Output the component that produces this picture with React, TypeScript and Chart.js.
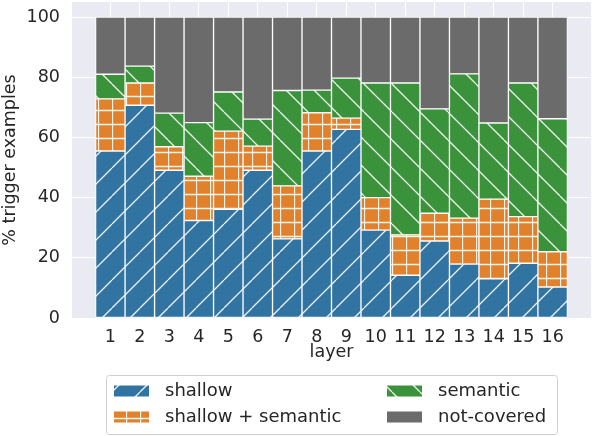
import React, { useEffect, useRef } from "react";
import { Chart, registerables } from "chart.js";

Chart.register(...registerables);

const layers = [1, 2, 3, 4, 5, 6, 7, 8, 9, 10, 11, 12, 13, 14, 15, 16];
const yTickValues = [0, 20, 40, 60, 80, 100];

const shallow = [55.5, 70.7, 49.1, 32.4, 36.1, 49.1, 26.3, 55.5, 62.7, 29.2, 14.2, 25.6, 17.9, 13.0, 18.2, 10.3];
const shallowSemantic = [17.3, 7.4, 7.8, 14.7, 26.0, 8.0, 17.6, 12.7, 3.7, 10.8, 13.4, 9.2, 15.3, 26.5, 15.5, 11.7];
const semantic = [8.2, 5.6, 11.2, 17.8, 13.0, 9.0, 31.7, 7.5, 13.3, 38.1, 50.5, 34.7, 47.9, 25.3, 44.4, 44.2];
const notCovered = [19.0, 16.3, 31.9, 35.1, 24.9, 33.9, 24.4, 24.3, 20.3, 21.9, 21.9, 30.5, 18.9, 35.2, 21.9, 33.8];

const seriesLabels = ["shallow", "shallow + semantic", "semantic", "not-covered"];
const seriesColors = ["#3274A1", "#E1812C", "#3A923A", "#6B6B6B"];
const seriesHatches = ["fwd", "grid", "back", "none"];

const TEXT = "#262626";
const FONT = "'DejaVu Sans', sans-serif";

function makePattern(color: string, kind: string): CanvasPattern | string {
  if (kind === "none") return color;
  const size = kind === "grid" ? 14 : 28;
  const c = document.createElement("canvas");
  c.width = size;
  c.height = size;
  const ctx = c.getContext("2d")!;
  ctx.fillStyle = color;
  ctx.fillRect(0, 0, size, size);
  ctx.strokeStyle = "rgba(255,255,255,0.9)";
  ctx.lineWidth = 1.3;
  if (kind === "fwd") {
    for (const o of [-size, 0, size]) {
      ctx.beginPath();
      ctx.moveTo(o, size);
      ctx.lineTo(o + size, 0);
      ctx.stroke();
    }
  } else if (kind === "back") {
    for (const o of [-size, 0, size]) {
      ctx.beginPath();
      ctx.moveTo(o, 0);
      ctx.lineTo(o + size, size);
      ctx.stroke();
    }
  } else if (kind === "grid") {
    ctx.beginPath();
    ctx.moveTo(0, 12.5);
    ctx.lineTo(size, 12.5);
    ctx.moveTo(0.5, 0);
    ctx.lineTo(0.5, size);
    ctx.stroke();
  }
  return ctx.createPattern(c, "repeat")!;
}

const bgPlugin = {
  id: "plotBg",
  beforeDraw(chart: any) {
    const { ctx, chartArea } = chart;
    ctx.save();
    ctx.fillStyle = "#EAEAF2";
    ctx.fillRect(chartArea.left, chartArea.top, chartArea.right - chartArea.left, chartArea.bottom - chartArea.top);
    ctx.restore();
  },
};

const legendPlugin = {
  id: "customLegend",
  afterDraw(chart: any) {
    const ctx = chart.ctx as CanvasRenderingContext2D;
    ctx.save();
    const bx = 106.5, by = 375.5, bw = 451, bh = 59, r = 3;
    ctx.beginPath();
    ctx.moveTo(bx + r, by);
    ctx.lineTo(bx + bw - r, by);
    ctx.quadraticCurveTo(bx + bw, by, bx + bw, by + r);
    ctx.lineTo(bx + bw, by + bh - r);
    ctx.quadraticCurveTo(bx + bw, by + bh, bx + bw - r, by + bh);
    ctx.lineTo(bx + r, by + bh);
    ctx.quadraticCurveTo(bx, by + bh, bx, by + bh - r);
    ctx.lineTo(bx, by + r);
    ctx.quadraticCurveTo(bx, by, bx + r, by);
    ctx.closePath();
    ctx.fillStyle = "rgba(255,255,255,0.9)";
    ctx.fill();
    ctx.strokeStyle = "#d0d0d0";
    ctx.lineWidth = 1;
    ctx.stroke();

    const colX = [114, 387];
    const rowY = [391, 417];
    chart.data.datasets.forEach((ds: any, i: number) => {
      const col = Math.floor(i / 2);
      const row = i % 2;
      const x = colX[col];
      const yc = rowY[row];
      ctx.fillStyle = ds.backgroundColor;
      ctx.fillRect(x, yc - 5.5, 35, 11);
      ctx.fillStyle = TEXT;
      ctx.font = `18px ${FONT}`;
      ctx.textBaseline = "middle";
      ctx.textAlign = "left";
      ctx.fillText(ds.label, x + 51, yc);
    });
    ctx.restore();
  },
};

export default function App() {
  const ref = useRef<HTMLCanvasElement | null>(null);

  useEffect(() => {
    document.body.style.margin = "0";
    const canvas = ref.current!;
    const seriesValues = [shallow, shallowSemantic, semantic, notCovered];
    const datasets = seriesValues.map((vals, si) => ({
      label: seriesLabels[si],
      data: layers.map((x, i) => ({ x, y: vals[i] })),
      backgroundColor: makePattern(seriesColors[si], seriesHatches[si]),
      borderColor: "#ffffff",
      borderWidth: 1,
      borderSkipped: false,
      barPercentage: 1,
      categoryPercentage: 1,
    }));

    const tickFont = { family: FONT, size: 17.5 };
    const chart = new Chart(canvas, {
      type: "bar",
      data: { datasets } as any,
      plugins: [bgPlugin, legendPlugin],
      options: {
        animation: false,
        responsive: false,
        devicePixelRatio: 1,
        layout: { padding: { top: 2, right: 1, bottom: 73.5, left: 0 } },
        plugins: { legend: { display: false }, tooltip: { enabled: false } },
        scales: {
          x: {
            type: "linear",
            min: -0.3,
            max: 17.3,
            offset: false,
            stacked: true,
            grid: { color: "#ffffff", lineWidth: 1, drawTicks: false, offset: false } as any,
            border: { display: false },
            ticks: { autoSkip: false, maxRotation: 0, padding: 9, color: TEXT, font: tickFont },
            afterBuildTicks: (s: any) => {
              s.ticks = layers.map((v) => ({ value: v }));
            },
            afterFit: (s: any) => {
              s.height = 44.5;
              s.paddingLeft = 0;
              s.paddingRight = 0;
            },
            title: { display: true, text: "layer", color: TEXT, font: tickFont, padding: { top: 0, bottom: 0 } },
          },
          y: {
            min: 0,
            max: 105,
            stacked: true,
            grid: { color: "#ffffff", lineWidth: 1, drawTicks: false },
            border: { display: false },
            ticks: { padding: 12, color: TEXT, font: tickFont },
            afterBuildTicks: (s: any) => {
              s.ticks = yTickValues.map((v) => ({ value: v }));
            },
            afterFit: (s: any) => {
              s.width = 72;
              s.paddingTop = 0;
              s.paddingBottom = 0;
            },
            title: { display: true, text: "% trigger examples", color: TEXT, font: tickFont, padding: { top: 0, bottom: 0 } },
          },
        },
      } as any,
    });
    return () => chart.destroy();
  }, []);

  return (
    <div style={{ position: "absolute", left: 0, top: 0, width: 592, height: 436 }}>
      <canvas ref={ref} width={592} height={436} style={{ width: 592, height: 436 }} />
    </div>
  );
}
